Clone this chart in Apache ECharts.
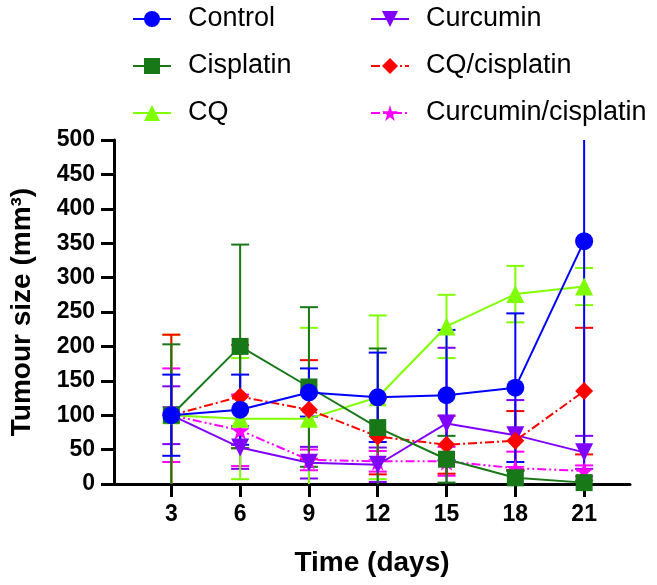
<!DOCTYPE html>
<html>
<head>
<meta charset="utf-8">
<script src="https://cdn.jsdelivr.net/npm/echarts@6/dist/echarts.min.js"></script>
<style>html,body{margin:0;padding:0;background:#fff}#c{width:657px;height:585px}</style>
</head>
<body>
<div id="c"></div>
<script>
var days = [3, 6, 9, 12, 15, 18, 21];
var seriesNames = ['Control', 'Cisplatin', 'CQ', 'Curcumin', 'CQ/cisplatin', 'Curcumin/cisplatin'];
var controlMean = [100, 108, 133, 126, 129, 140, 353];
var controlErr = [59, 51, 35, 65, 95, 108, 360];
var cisplatinMean = [100, 200, 141, 82, 36, 9, 2];
var cisplatinErr = [103, 148, 116, 115, 34, 10, 3];
var cqMean = [100, 95, 95, 126, 229, 276, 287];
var cqErr = [117, 88, 132, 119, 46, 41, 27];
var curcuminMean = [100, 53, 31, 28, 88, 71, 46];
var curcuminErr = [42, 31, 23, 25, 110, 51, 24];
var cqCisMean = [100, 127, 108, 69, 57, 63, 135];
var cqCisErr = [117, 75, 72, 55, 42, 43, 92];
var curCisMean = [100, 78, 35, 33, 33, 23, 19];
var curCisErr = [68, 52, 15, 15, 21, 24, 8];
var yTicks = [0, 50, 100, 150, 200, 250, 300, 350, 400, 450, 500];

var YMAX = 500, YMIN = 0;
var colors = ['#0000ff', '#187818', '#80ff00', '#8000ff', '#ff0000', '#ff00ff'];
var symbols = ['circle', 'rect', 'triangle', 'triangle', 'diamond',
  'path://M50,0 L61,35 L98,35 L68,57 L79,91 L50,70 L21,91 L32,57 L2,35 L39,35 Z'];
var symbolRot = [0, 0, 0, 180, 0, 0];
var symbolSizes = [18, 17, 18, 18, 18, 19];
var dashTypes = ['solid', 'solid', 'solid', 'solid', [9, 3, 2, 3], [9, 3, 2, 3, 2, 3]];
var means = [controlMean, cisplatinMean, cqMean, curcuminMean, cqCisMean, curCisMean];
var errs = [controlErr, cisplatinErr, cqErr, curcuminErr, cqCisErr, curCisErr];
var zOrder = [12, 11, 9, 8, 10, 7];

var FONT = "'Liberation Sans Narrow','Arial Narrow','Liberation Sans',Arial,sans-serif";

function errRender(color) {
  return function (params, api) {
    var x = api.value(0), m = api.value(1), e = api.value(2);
    var hi = m + e, lo = m - e;
    var hiC = Math.min(hi, YMAX), loC = Math.max(lo, YMIN);
    var pHi = api.coord([x, hiC]), pLo = api.coord([x, loC]);
    var cw = 9;
    var st = {stroke: color, lineWidth: 2};
    var ch = [{type: 'line', shape: {x1: pHi[0], y1: pHi[1], x2: pLo[0], y2: pLo[1]}, style: st}];
    if (hi <= YMAX) ch.push({type: 'line', shape: {x1: pHi[0] - cw, y1: pHi[1], x2: pHi[0] + cw, y2: pHi[1]}, style: st});
    if (lo >= YMIN) ch.push({type: 'line', shape: {x1: pLo[0] - cw, y1: pLo[1], x2: pLo[0] + cw, y2: pLo[1]}, style: st});
    return {type: 'group', children: ch};
  };
}

var series = [];
seriesNames.forEach(function (name, i) {
  series.push({
    type: 'custom', name: name + ' err', silent: true, z: zOrder[i],
    renderItem: errRender(colors[i]),
    encode: {x: 0, y: 1},
    data: days.map(function (d, k) { return [d, means[i][k], errs[i][k]]; })
  });
});
seriesNames.forEach(function (name, i) {
  series.push({
    type: 'line', name: name, z: zOrder[i] + 10,
    data: days.map(function (d, k) { return [d, means[i][k]]; }),
    symbol: symbols[i], symbolSize: symbolSizes[i], symbolRotate: symbolRot[i],
    showAllSymbol: true,
    itemStyle: {color: colors[i]},
    lineStyle: {color: colors[i], width: 2, type: dashTypes[i]},
    emphasis: {disabled: true}
  });
});

var legendCommon = {
  orient: 'vertical', top: -1, itemWidth: 38, itemHeight: 20, itemGap: 17,
  textStyle: {fontFamily: "'Liberation Sans',Arial,sans-serif", fontSize: 27, color: '#000', lineHeight: 30, padding: [0, 0, 0, 12]},
  selectedMode: false
};

var chart = echarts.init(document.getElementById('c'), null, {renderer: 'canvas'});
chart.setOption({
  animation: false,
  backgroundColor: '#fff',
  legend: [
    Object.assign({}, legendCommon, {left: 127, data: seriesNames.slice(0, 3)}),
    Object.assign({}, legendCommon, {left: 365, data: seriesNames.slice(3, 6)})
  ],
  grid: {left: 111, right: 27, top: 140, bottom: 101, containLabel: false},
  xAxis: {
    type: 'value', min: 0.5, max: 23,
    name: 'Time (days)', nameLocation: 'middle', nameGap: 65,
    nameTextStyle: {fontFamily: FONT, fontWeight: 'bold', fontSize: 28, color: '#000'},
    axisLine: {onZero: false, lineStyle: {color: '#000', width: 3}},
    axisTick: {show: true, length: 13, lineStyle: {color: '#000', width: 3}, customValues: days},
    axisLabel: {fontFamily: FONT, fontWeight: 'bold', fontSize: 23, color: '#000', margin: 19, customValues: days},
    splitLine: {show: false}
  },
  yAxis: {
    type: 'value', min: 0, max: 500, interval: 50,
    name: 'Tumour size (mm³)', nameLocation: 'middle', nameGap: 78,
    nameTextStyle: {fontFamily: FONT, fontWeight: 'bold', fontSize: 28, color: '#000'},
    axisLine: {show: true, lineStyle: {color: '#000', width: 3}},
    axisTick: {show: true, length: 13, lineStyle: {color: '#000', width: 3}, customValues: yTicks},
    axisLabel: {fontFamily: FONT, fontWeight: 'bold', fontSize: 23, color: '#000', margin: 19, customValues: yTicks},
    splitLine: {show: false}
  },
  series: series
});
</script>
</body>
</html>
